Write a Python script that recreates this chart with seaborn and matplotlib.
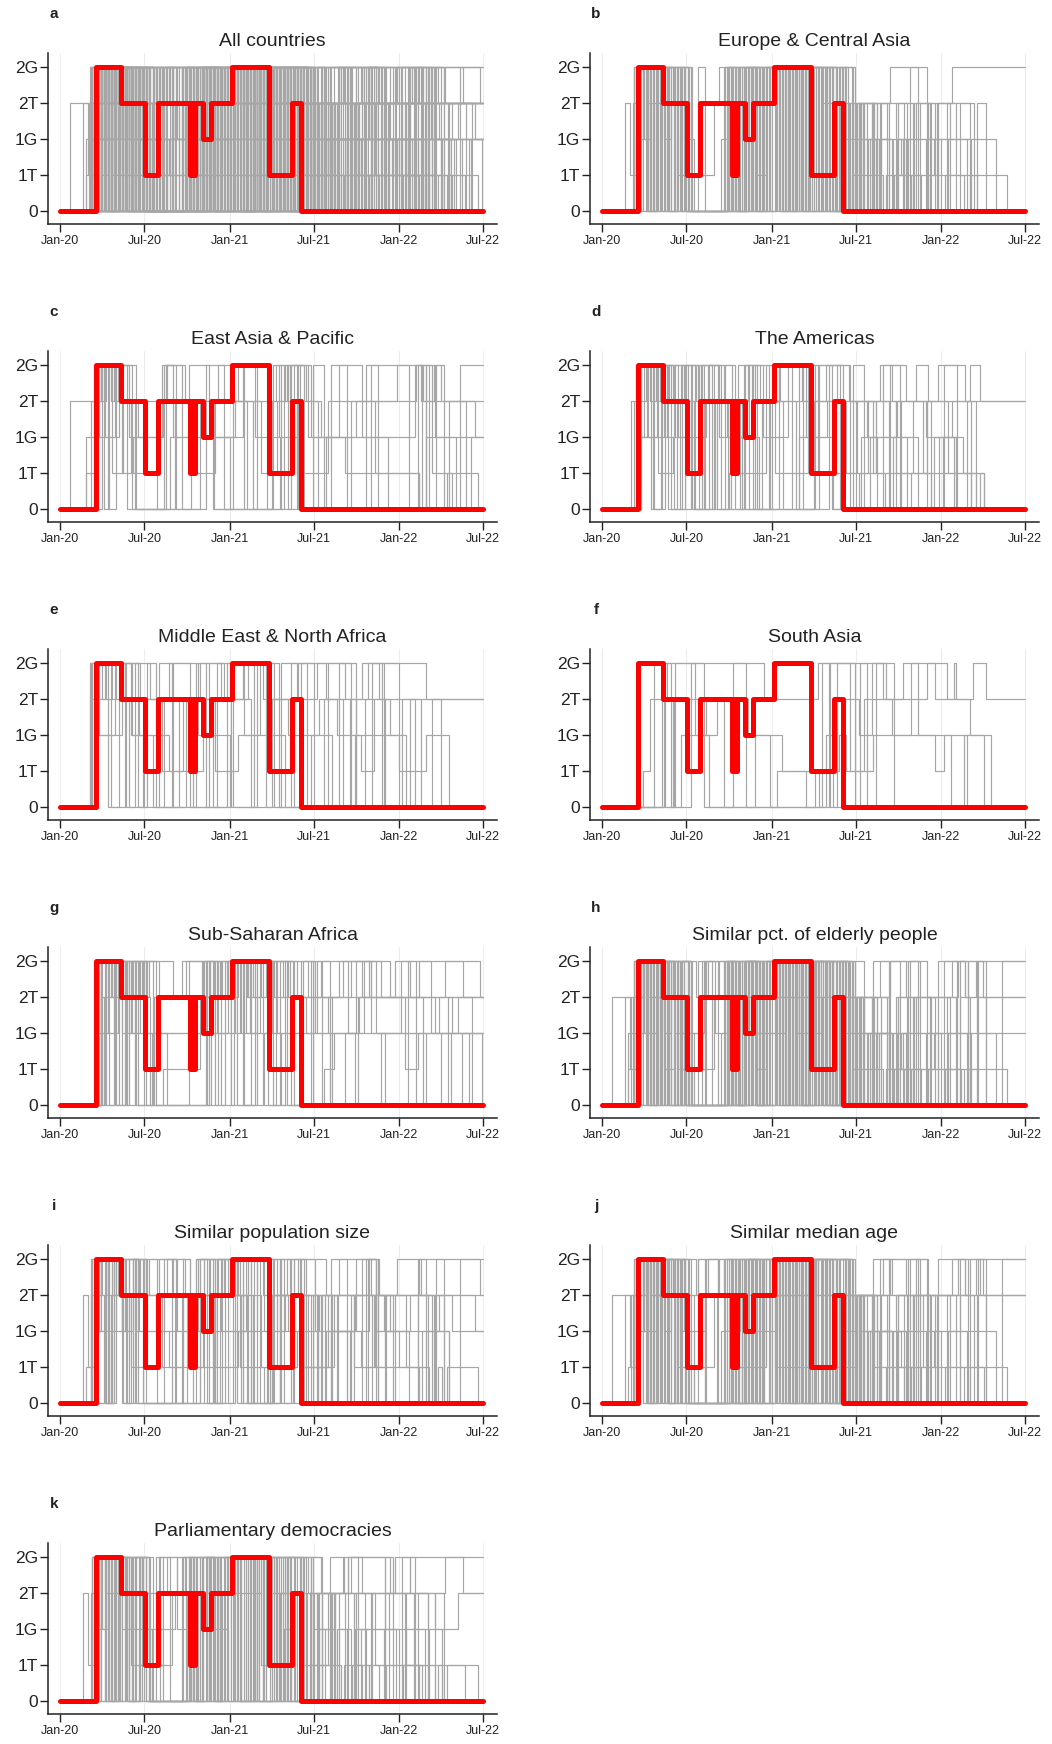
import numpy as np
import pandas as pd
import matplotlib
matplotlib.use("Agg")
import matplotlib.pyplot as plt
import matplotlib.dates as mdates
from matplotlib import font_manager
import seaborn as sns

# ---------------- data ----------------
LEVEL_LABELS = ["0", "1T", "1G", "2T", "2G"]

# focal country (red line): change dates and levels (0=0,1=1T,2=1G,3=2T,4=2G)
focal_dates = ["2020-01-01", "2020-03-19", "2020-05-12", "2020-07-02", "2020-07-31",
               "2020-10-07", "2020-10-10", "2020-10-13", "2020-10-18", "2020-11-04",
               "2020-11-22", "2021-01-06", "2021-03-27", "2021-05-15", "2021-06-03",
               "2022-07-01"]
focal_levels = [0, 4, 3, 1, 3, 1, 3, 1, 3, 2, 3, 4, 1, 3, 0, 0]

# comparison countries: (months since Jan-2020, new level) change points
ECA = {
    "E01": [(2.3,4),(2.9,0),(3.2,4),(4.1,0),(4.4,4),(5.6,0),(8.6,4),(9.3,0),(9.7,4),(10.6,0),(11.3,4),(12.4,0),(12.8,4),(14.0,0),(14.5,4),(16.0,0),(17.2,4),(17.9,3),(20.4,4),(23.0,3),(24.8,4)],
    "E02": [(1.6,3),(2.0,1),(2.4,4),(3.3,0),(3.6,3),(4.8,0),(5.3,4),(6.1,0),(9.0,3),(9.4,0),(9.9,4),(11.0,0),(11.5,3),(12.1,4),(13.3,0),(13.7,4),(15.2,0),(15.6,3),(17.0,0),(17.9,3),(18.3,0),(18.6,3),(19.2,0),(19.6,2),(20.3,0),(20.8,3),(22.1,0),(23.0,3),(23.6,0),(25.3,3),(26.1,0),(26.6,3),(27.2,0)],
    "E03": [(2.4,4),(2.7,2),(3.1,4),(3.9,0),(4.2,4),(5.0,3),(5.9,0),(8.8,4),(9.1,0),(10.2,4),(10.9,1),(11.6,4),(12.9,0),(13.2,4),(14.3,0),(14.8,4),(16.4,0),(16.9,2),(18.1,0),(19.0,2),(21.2,1),(23.5,2),(27.9,0)],
    "E04": [(2.5,4),(3.5,0),(3.8,4),(4.6,0),(5.1,4),(5.8,2),(6.5,0),(9.2,4),(9.6,0),(10.4,4),(11.2,0),(12.2,4),(12.7,0),(13.9,4),(14.6,0),(15.3,4),(16.7,0),(17.5,3),(17.9,0),(18.3,3),(18.6,0),(19.1,3),(19.5,0),(20.1,1),(21.4,0),(21.9,1),(22.6,0),(24.3,1),(25.6,0),(26.1,1),(28.7,0)],
    "E05": [(2.3,4),(3.0,2),(3.4,4),(4.3,0),(4.7,4),(5.4,1),(7.9,3),(8.3,4),(9.5,0),(10.1,4),(10.8,0),(11.4,4),(12.6,0),(13.0,4),(13.6,0),(14.1,4),(15.5,0),(16.2,4),(17.3,0),(17.7,3),(18.0,0),(18.4,3),(19.3,0),(19.8,3),(20.2,0),(21.0,3),(21.6,0),(22.0,3),(23.3,0),(24.4,3),(25.0,0)],
    "E06": [(2.4,2),(2.6,4),(3.7,0),(4.0,4),(5.2,0),(5.7,4),(6.3,0),(9.4,4),(10.0,0),(10.7,4),(11.8,0),(12.3,4),(13.4,0),(13.8,4),(14.9,0),(15.8,4),(16.6,0),(17.1,4),(17.8,0),(18.4,2),(18.8,0),(19.8,2),(20.6,0),(21.0,2),(21.7,0),(22.9,2),(24.0,0),(24.5,2),(25.8,0)],
    "E07": [(2.2,3),(2.5,4),(3.2,0),(3.5,4),(4.4,2),(4.9,4),(5.5,0),(8.7,4),(9.2,2),(9.8,4),(10.5,0),(11.1,4),(12.5,0),(12.9,4),(14.2,0),(14.7,4),(15.9,0),(16.5,3),(17.6,0),(18.9,2),(20.5,0),(21.8,4),(22.4,0)],
    "E08": [(2.6,4),(3.4,0),(3.9,4),(4.9,0),(5.3,3),(6.0,0),(6.8,4),(7.3,0),(9.1,4),(9.9,0),(10.3,4),(11.3,0),(11.9,4),(13.1,0),(13.5,4),(14.4,0),(15.0,4),(16.1,0),(16.8,4),(17.4,0),(18.2,3),(19.5,0),(20.9,2),(23.8,0)],
    "E09": [(2.4,4),(3.1,0),(3.6,4),(4.5,0),(4.9,3),(5.6,4),(6.2,0),(8.4,2),(9.0,4),(9.7,0),(10.6,4),(11.5,0),(12.0,4),(13.0,0),(13.6,4),(14.5,0),(15.2,4),(16.3,0),(16.9,4),(17.7,0),(18.1,3),(18.5,0),(19.1,3),(20.3,0),(20.9,2),(21.5,0),(22.2,3),(23.2,0),(23.8,3),(24.6,0)],
    "E10": [(2.5,4),(2.8,0),(3.3,4),(4.2,0),(4.6,4),(5.1,0),(5.8,4),(6.4,0),(8.9,4),(9.5,0),(10.0,4),(10.9,0),(11.7,4),(12.8,0),(13.3,4),(14.1,0),(14.6,4),(15.7,0),(16.4,4),(17.2,0),(18.0,2),(19.4,0),(21.3,2),(26.2,0)],
    "E11": [(2.3,4),(3.2,3),(3.7,0),(4.1,4),(4.8,0),(5.4,4),(6.1,0),(9.3,3),(9.8,0),(10.4,4),(11.1,0),(11.6,4),(12.7,0),(13.1,4),(14.0,0),(14.4,4),(15.4,0),(16.0,4),(17.0,0),(17.7,1),(19.9,0),(20.7,1),(21.9,0),(23.1,1),(26.6,0)],
    "E12": [(2.6,4),(3.3,0),(3.8,4),(4.7,0),(5.2,4),(5.9,0),(9.6,4),(10.2,0),(10.8,4),(11.9,0),(12.4,4),(13.5,0),(14.0,4),(14.9,0),(15.6,4),(16.6,0),(17.4,3),(17.8,0),(18.2,3),(18.5,0),(18.8,3),(19.3,0),(19.7,3),(21.4,0),(22.5,3),(23.1,0),(23.7,3),(26.4,0)],
}
EAP = {
    "P01": [(0.73,3),(2.9,4),(3.6,3),(5.5,2),(7.3,3),(10.0,2),(12.4,3),(15.3,4),(16.0,3),(18.5,2),(21.0,3),(25.2,4),(25.7,3),(26.5,4),(27.0,3)],
    "P02": [(1.8,2),(2.8,4),(3.2,2),(3.9,4),(4.4,1),(5.2,2),(7.2,4),(8.0,2),(9.1,4),(10.5,2),(12.9,4),(13.8,2),(15.5,4),(16.2,0),(16.9,4),(17.6,2),(20.2,1),(25.4,0),(26.0,4),(26.6,2)],
    "P03": [(1.8,1),(2.5,3),(3.0,4),(3.4,0),(4.0,4),(5.4,0),(7.4,4),(8.2,0),(9.9,3),(10.9,0),(12.2,3),(13.6,0),(15.1,4),(15.7,0),(16.4,4),(17.3,0),(19.2,4),(20.3,0),(21.7,4),(22.5,0),(25.3,4),(25.9,0),(26.7,4),(27.2,0),(28.4,4)],
    "P04": [(2.2,3),(2.8,4),(4.1,3),(5.0,1),(6.2,3),(7.6,4),(8.8,3),(11.2,4),(12.6,3),(14.3,1),(15.4,3),(16.1,4),(17.0,1),(19.0,3),(22.3,1),(25.4,0),(27.4,1),(29.6,0)],
    "P05": [(2.6,4),(3.1,0),(3.5,4),(4.8,0),(7.5,4),(8.6,0),(10.3,4),(11.6,0),(14.0,4),(14.7,0),(15.9,4),(16.8,0),(17.9,4),(18.7,0),(22.0,4),(24.7,0),(25.6,4),(26.2,0),(27.6,3),(28.8,0)],
    "P06": [(2.4,3),(3.3,4),(3.8,3),(5.3,0),(8.1,3),(9.5,1),(11.0,3),(13.2,0),(15.0,3),(16.6,4),(17.4,3),(18.3,0),(20.6,3),(23.9,4),(25.5,3),(29.4,2)],
    "P07": [(3.0,4),(3.7,1),(4.5,4),(5.1,0),(7.8,2),(10.8,0),(13.0,4),(14.8,1),(16.3,4),(17.8,2),(19.8,4),(21.4,2),(25.1,4),(26.4,1),(27.8,0)],
    "P08": [(2.7,2),(4.2,4),(4.9,2),(6.9,0),(9.3,2),(12.0,0),(15.6,2),(17.1,0),(18.9,2),(23.2,0),(25.9,2),(28.1,0),(29.1,2)],
}
AME = {
    "A01": [(2.1,3),(2.4,4),(3.4,3),(4.1,4),(5.0,3),(5.6,4),(6.7,3),(7.5,4),(8.6,3),(10.3,4),(11.2,3),(12.6,4),(14.2,3),(15.9,4),(17.5,3),(19.7,4),(21.5,3),(23.8,4),(25.7,3)],
    "A02": [(2.55,2),(3.0,4),(3.6,0),(4.3,4),(4.9,0),(5.7,4),(6.3,0),(7.1,4),(7.8,0),(8.7,4),(9.4,0),(10.1,4),(11.0,0),(12.5,4),(13.9,0),(15.4,4),(16.3,0),(17.8,4),(18.6,0),(20.4,4),(21.1,0),(24.2,4),(25.1,0)],
    "A03": [(2.4,4),(3.2,2),(3.9,4),(4.7,0),(5.3,3),(6.5,0),(7.3,3),(8.1,0),(9.0,1),(11.6,4),(12.2,1),(14.6,4),(15.3,1),(18.1,3),(19.2,1),(22.0,3),(22.7,1),(27.1,0)],
    "A04": [(2.3,3),(2.8,4),(4.0,2),(4.6,4),(5.4,2),(6.0,4),(6.9,0),(7.9,4),(9.2,2),(10.6,4),(11.4,2),(13.1,4),(14.5,2),(16.0,3),(18.8,2),(20.9,3),(22.9,2),(24.8,3),(26.5,0)],
    "A05": [(2.5,4),(3.5,0),(4.2,4),(5.1,0),(5.9,4),(6.6,0),(7.6,4),(8.4,0),(9.1,3),(9.8,0),(10.8,4),(11.8,0),(13.4,4),(14.3,0),(15.1,4),(16.9,0),(17.6,3),(18.0,0),(18.4,2),(19.5,0),(19.9,3),(20.3,0),(20.6,2),(22.4,0),(23.0,3),(23.3,0),(23.5,2),(25.0,0),(25.8,3),(26.2,0)],
    "A06": [(2.6,2),(3.3,4),(4.4,2),(5.2,4),(6.1,1),(7.0,4),(8.3,2),(9.6,4),(10.4,0),(11.3,3),(12.8,0),(15.0,3),(17.3,1),(19.4,3),(20.8,1),(23.0,3),(24.5,1),(26.2,0),(26.8,1),(27.1,0)],
    "A07": [(2.8,4),(3.7,0),(4.5,3),(5.5,0),(6.4,4),(7.2,0),(8.0,3),(8.9,0),(10.0,4),(10.7,0),(11.9,3),(13.7,0),(16.1,4),(17.1,0),(18.2,1),(18.9,3),(19.4,1),(20.0,0),(20.8,3),(21.2,0),(21.9,1),(23.3,0),(24.1,2),(24.9,0)],
    "A08": [(2.4,3),(3.1,4),(3.8,3),(4.8,4),(5.8,3),(6.8,4),(8.2,3),(9.9,0),(12.0,3),(16.7,4),(17.6,3),(19.9,4),(20.5,3),(22.2,4),(23.1,3),(26.1,4),(26.8,3)],
    "A09": [(2.55,2),(4.0,1),(5.0,2),(7.4,3),(8.8,2),(11.1,0),(14.0,2),(16.4,0),(19.0,2),(21.6,0),(23.9,2),(25.5,1),(26.5,0)],
}
MNA = {
    "M01": [(2.15,4),(3.0,3),(3.7,4),(4.6,0),(5.3,4),(6.4,3),(7.7,4),(9.2,0),(10.5,4),(11.4,3),(12.9,4),(14.6,0),(15.7,4),(16.8,3),(18.2,4),(20.2,3),(21.8,4),(26.0,3)],
    "M02": [(2.15,3),(2.6,4),(3.4,0),(4.2,4),(5.0,2),(5.9,0),(7.0,4),(7.9,0),(9.6,4),(10.3,0),(11.8,4),(13.0,2),(14.2,4),(15.2,0),(16.4,4),(17.5,0),(19.0,4),(20.6,0),(22.8,4),(24.0,0)],
    "M03": [(2.3,4),(2.8,2),(4.4,3),(5.6,2),(7.7,1),(10.1,3),(11.0,1),(12.6,2),(14.9,3),(16.2,2),(18.4,3),(19.6,2),(21.3,1),(22.2,3),(23.4,2),(24.0,1),(25.9,2),(27.6,0)],
    "M04": [(2.5,4),(3.6,0),(4.7,4),(5.5,0),(6.2,4),(6.8,0),(8.4,3),(9.4,0),(11.1,4),(12.2,0),(13.7,4),(15.5,0),(17.1,4),(18.0,0),(19.8,4),(21.0,0),(22.1,4),(22.9,0),(24.2,3),(25.1,0)],
    "M05": [(2.4,3),(3.2,4),(4.0,3),(4.9,0),(6.0,3),(7.4,0),(8.9,3),(10.8,0),(12.1,3),(13.5,0),(15.0,3),(16.6,0),(18.7,3),(20.0,0),(20.5,3),(21.0,0),(21.6,3),(23.0,0),(24.8,3),(25.5,0),(26.4,3),(27.0,0)],
    "M06": [(2.6,2),(3.9,4),(5.1,2),(6.6,0),(8.0,4),(9.8,2),(12.0,0),(14.0,4),(14.8,2),(16.0,0),(17.8,2),(19.3,0),(20.9,2),(24.5,0)],
    "M07": [(2.2,4),(3.3,3),(4.5,4),(5.7,3),(7.2,1),(8.7,3),(9.9,4),(11.6,3),(13.3,4),(14.4,3),(16.9,4),(18.9,3),(21.4,4),(22.6,3)],
}
SAS = {
    "S01": [(2.9,1),(3.4,3),(4.6,4),(11.5,3),(15.3,4),(19.9,3),(21.3,4),(24.4,3),(24.9,4),(25.0,3),(26.3,4),(27.2,3)],
    "S02": [(3.7,4),(4.5,0),(5.0,3),(6.8,2),(7.4,3),(8.6,0),(10.8,2),(12.7,1),(14.5,0),(15.1,1),(16.8,2),(17.3,1),(19.2,2),(21.9,4),(22.4,2),(24.7,0),(25.6,2),(27.6,0)],
    "S03": [(4.4,3),(5.1,0),(6.3,4),(7.2,0),(9.3,4),(10.2,0),(15.6,4),(16.1,0),(16.7,4),(17.9,0),(18.3,4),(18.8,0),(19.4,4),(20.7,0)],
    "S04": [(4.3,4),(4.9,0),(5.6,2),(8.1,3),(10.3,2),(11.9,0),(15.9,2),(16.4,0),(17.0,3),(18.2,2),(19.1,4),(20.1,3),(23.0,4),(23.6,3),(26.1,2),(27.1,0)],
    "S05": [(5.2,4),(6.6,2),(7.6,0),(12.4,1),(15.4,0),(16.2,4),(17.6,1),(18.6,3),(20.5,2),(23.6,1),(24.2,2),(25.8,0)],
}
SSA = {
    "F01": [(2.7,2),(2.9,4),(3.5,0),(3.8,4),(4.4,0),(4.9,4),(5.6,3),(6.3,4),(8.0,3),(10.2,4),(11.0,0),(11.7,4),(12.9,0),(13.5,4),(14.8,0),(15.6,4),(16.3,3),(19.8,4),(22.0,3),(25.4,4),(29.8,3)],
    "F02": [(2.8,4),(3.3,2),(4.1,4),(4.7,0),(5.4,4),(6.1,0),(7.3,1),(9.9,3),(10.6,4),(11.4,0),(12.3,4),(13.1,2),(14.2,4),(15.1,0),(16.0,4),(16.6,0),(18.7,1),(19.4,2),(21.2,3),(24.4,1),(25.3,2),(29.9,0)],
    "F03": [(2.9,4),(3.6,3),(4.3,4),(5.0,2),(5.9,4),(6.6,0),(9.1,4),(10.4,0),(11.2,4),(12.1,0),(13.8,4),(14.4,0),(15.3,4),(16.1,0),(17.8,4),(18.5,3),(20.6,4),(23.4,3),(26.6,2),(28.2,3)],
    "F04": [(3.0,4),(3.9,0),(4.6,4),(5.3,0),(6.0,4),(7.0,3),(8.6,4),(10.0,3),(10.9,4),(11.8,3),(12.6,4),(13.3,3),(14.6,4),(15.8,3),(17.4,2),(19.0,3),(21.9,4),(22.7,3)],
    "F05": [(2.75,2),(3.4,4),(4.0,0),(4.8,4),(5.5,0),(6.5,2),(10.1,4),(10.8,2),(12.4,4),(13.0,0),(14.0,4),(15.0,2),(16.4,0),(17.2,4),(17.9,0),(18.6,4),(19.1,0),(20.2,2),(21.5,4),(22.0,2),(23.0,0),(24.6,4),(25.2,0),(27.0,2),(27.7,0)],
    "F06": [(3.1,3),(3.7,4),(4.5,3),(5.2,4),(6.2,2),(9.6,3),(11.5,4),(12.7,2),(13.9,4),(15.4,2),(17.1,4),(18.1,2),(21.0,4),(22.4,2),(26.9,3),(27.8,2)],
    "F07": [(2.8,4),(3.2,0),(4.2,4),(5.8,3),(6.4,0),(10.5,4),(11.3,3),(12.0,4),(13.6,3),(14.3,4),(15.2,3),(16.2,4),(17.6,3),(20.0,4),(21.4,3),(23.7,4),(24.8,3),(27.3,4),(28.6,3)],
    "F08": [(3.0,2),(3.8,4),(4.9,2),(5.7,4),(6.8,0),(10.7,2),(11.9,4),(12.5,0),(14.5,2),(15.7,0),(19.1,2),(20.9,0),(22.7,2),(26.0,0),(28.5,2),(29.0,0)],
    "F09": [(3.3,4),(4.4,2),(5.1,4),(6.0,2),(7.6,0),(10.3,4),(11.1,2),(12.8,4),(13.4,2),(14.7,4),(16.5,2),(18.2,4),(20.4,2),(24.1,4),(26.3,2)],
    "F10": [(2.9,3),(4.0,4),(4.8,3),(5.3,0),(6.7,3),(8.9,4),(10.6,3),(12.2,4),(13.2,3),(14.9,4),(16.8,3),(19.3,0),(21.1,3),(25.7,0),(27.5,3),(29.2,0)],
}

ELDERLY = ["E01","E02","E03","E04","E05","E06","E07","E08","E09","E10","E11","P01","P02","P03","A01","A02"]
POPSIZE = ["E02","E07","E12","P03","P04","P06","A04","A06","M03","M07","S02","F01","F06"]
MEDAGE = ["E01","E02","E03","E04","E05","E06","E07","E08","E09","E12","P01","P03","A01","A03","A08"]
PARLIAMENT = ["E01","E02","E04","E05","E06","E08","E10","E11","P04","A02","A06","S04","F03","F07"]

PANEL_LETTERS = list("abcdefghijk")
PANEL_TITLES = ["All countries", "Europe & Central Asia", "East Asia & Pacific", "The Americas",
                "Middle East & North Africa", "South Asia", "Sub-Saharan Africa",
                "Similar pct. of elderly people", "Similar population size",
                "Similar median age", "Parliamentary democracies"]

# ---------------- build tidy frame ----------------
ALL = {}
for reg in (ECA, EAP, AME, MNA, SAS, SSA):
    ALL.update(reg)

START = pd.Timestamp("2020-01-01")
END = pd.Timestamp("2022-07-01")


def month_to_date(m):
    return START + pd.DateOffset(months=int(m)) + pd.Timedelta(days=(m - int(m)) * 30.4)


rows = []
for cid, changes in ALL.items():
    rows.append((cid, START, 0))
    for m, lev in changes:
        rows.append((cid, month_to_date(m), lev))
    rows.append((cid, END, changes[-1][1]))
df = pd.DataFrame(rows, columns=["country", "date", "level"])

focal = pd.DataFrame({"date": pd.to_datetime(focal_dates), "level": focal_levels})

panel_members = [list(ALL), list(ECA), list(EAP), list(AME), list(MNA), list(SAS), list(SSA),
                 ELDERLY, POPSIZE, MEDAGE, PARLIAMENT]

# ---------------- figure ----------------
sns.set_style("ticks")
plt.rcParams["font.family"] = ["Liberation Sans", "DejaVu Sans"]

installed = {f.name for f in font_manager.fontManager.ttflist}
NARROW = ["Liberation Sans Narrow", "Liberation Sans"] if "Liberation Sans Narrow" in installed else ["Liberation Sans"]

W, H = 1052, 1744
fig = plt.figure(figsize=(W / 100, H / 100), dpi=100)

col_left = [48, 590]
ax_w, ax_h = 449, 171
row_top0, row_pitch = 53, 298

for i, (letter, title, members) in enumerate(zip(PANEL_LETTERS, PANEL_TITLES, panel_members)):
    r, c = divmod(i, 2)
    left = col_left[c]
    top = row_top0 + r * row_pitch
    ax = fig.add_axes([left / W, 1 - (top + ax_h) / H, ax_w / W, ax_h / H])

    sub = df[df["country"].isin(members)]
    sns.lineplot(data=sub, x="date", y="level", units="country", estimator=None,
                 sort=False, color="#a6a6a6", linewidth=0.85,
                 drawstyle="steps-post", legend=False, ax=ax, zorder=2)
    sns.lineplot(data=focal, x="date", y="level", sort=False, color="#ff0000",
                 linewidth=3.6, drawstyle="steps-post", legend=False, ax=ax, zorder=5)

    ax.set_xlim(pd.Timestamp("2019-12-06"), pd.Timestamp("2022-07-31"))
    ax.set_ylim(-0.36, 4.39)
    ax.set_yticks(range(5))
    ax.set_yticklabels(LEVEL_LABELS, family=NARROW)
    ax.xaxis.set_major_locator(mdates.MonthLocator(bymonth=[1, 7]))
    ax.xaxis.set_major_formatter(mdates.DateFormatter("%b-%y"))
    ax.set_xlabel("")
    ax.set_ylabel("")
    ax.grid(axis="x", color="#ededed", linewidth=0.8, zorder=0)
    ax.set_axisbelow(True)
    for s in ("top", "right"):
        ax.spines[s].set_visible(False)
    for s in ("left", "bottom"):
        ax.spines[s].set_color("#222222")
        ax.spines[s].set_linewidth(1.1)
    ax.tick_params(axis="y", labelsize=12.5, length=6, width=1.0, pad=1, colors="#222222")
    ax.tick_params(axis="x", labelsize=9, length=6, width=1.0, pad=2, colors="#222222")
    ax.set_title(title, fontsize=14, pad=5, color="#222222")
    fig.text((left + 6) / W, 1 - (top - 39) / H, letter, fontsize=11, fontweight="bold",
             ha="center", va="center", color="#222222")

fig.savefig("out.png", dpi=100)
